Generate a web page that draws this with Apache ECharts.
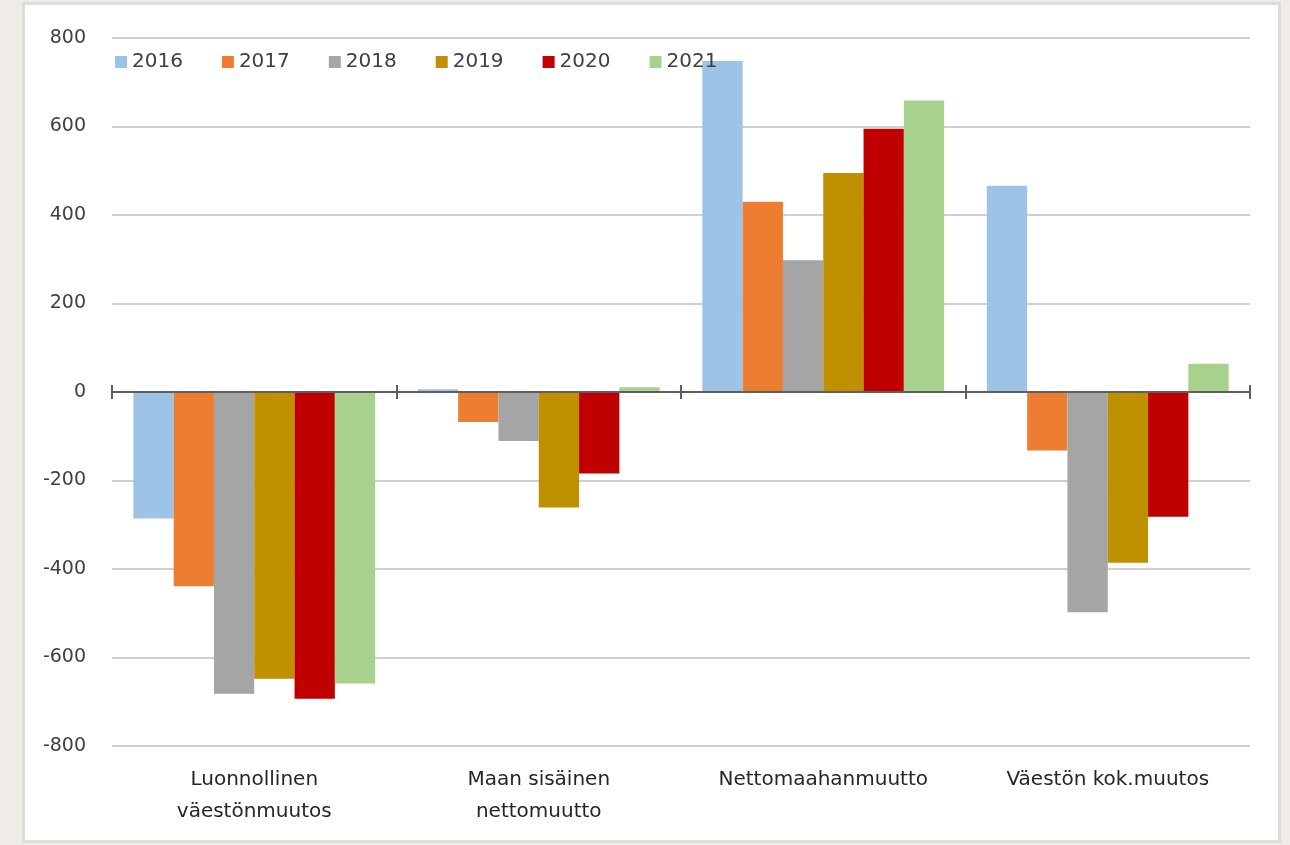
<html>
    <head>
        <meta charset="utf-8">
        <script src="https://cdn.jsdelivr.net/npm/echarts@6/dist/echarts.min.js"></script>
    </head>
    <body>
        <style>
            html, body {
                width: 100%;
                height: 100%;
                margin: 0;
                background: #efece7;
            }
            #frame {
                position: absolute;
                left: 22px;
                top: 2px;
                width: 1253px;
                height: 835px;
                background: #fff;
                border: 3px solid #dedcd9;
            }
            #main {
                position: absolute;
                left: 0;
                top: 0;
                width: 1290px;
                height: 845px;
            }
        </style>
        <div id="frame"></div>
        <div id="main"></div>

        <script>
            var categories = ['Luonnollinen\nväestönmuutos', 'Maan sisäinen\nnettomuutto', 'Nettomaahanmuutto', 'Väestön kok.muutos'];
            var years = ['2016', '2017', '2018', '2019', '2020', '2021'];
            var colors = ['#9dc3e6', '#ed7d31', '#a5a5a5', '#bf9000', '#c00000', '#a9d18e'];

            var v2016 = [-286, 6, 748, 466];
            var v2017 = [-439, -68, 430, -132];
            var v2018 = [-682, -111, 298, -498];
            var v2019 = [-648, -261, 495, -386];
            var v2020 = [-693, -184, 595, -282];
            var v2021 = [-659, 11, 659, 64];
            var values = [v2016, v2017, v2018, v2019, v2020, v2021];

            var font = 'DejaVu Sans';

            var chart = echarts.init(document.getElementById('main'));

            var series = [];
            for (var i = 0; i < years.length; i++) {
                series.push({
                    name: years[i],
                    type: 'bar',
                    data: values[i],
                    barGap: 0,
                    barCategoryGap: '15%',
                    itemStyle: {
                        color: colors[i]
                    }
                });
            }

            // zero line with ticks crossing it (one axis ticks down, one ticks up)
            function zeroAxis(pos) {
                return {
                    type: 'category',
                    data: categories,
                    position: pos,
                    z: 5,
                    axisLine: {
                        show: true,
                        onZero: true,
                        onZeroAxisIndex: 0,
                        lineStyle: { color: '#5f5f5f', width: 2 }
                    },
                    axisTick: {
                        show: true,
                        interval: 0,
                        length: 7,
                        lineStyle: { color: '#5f5f5f', width: 2 }
                    },
                    axisLabel: { show: false }
                };
            }

            chart.setOption({
                animation: false,
                color: colors,
                legend: {
                    left: 110,
                    top: 47,
                    itemWidth: 12,
                    itemHeight: 12,
                    itemGap: 39,
                    icon: 'rect',
                    data: years,
                    textStyle: {
                        fontFamily: font,
                        fontSize: 20,
                        color: '#404040'
                    }
                },
                grid: {
                    left: 112,
                    right: 40,
                    top: 38,
                    bottom: 99
                },
                xAxis: [{
                    // labels at the bottom
                    type: 'category',
                    data: categories,
                    position: 'bottom',
                    axisLine: { show: false, onZero: false },
                    axisTick: { show: false },
                    axisLabel: {
                        margin: 18,
                        fontFamily: font,
                        fontSize: 20,
                        lineHeight: 32,
                        color: '#262626'
                    }
                }, zeroAxis('bottom'), zeroAxis('top')],
                yAxis: {
                    type: 'value',
                    min: -800,
                    max: 800,
                    interval: 200,
                    axisLine: { show: false },
                    axisTick: { show: false },
                    axisLabel: {
                        margin: 26,
                        fontFamily: font,
                        fontSize: 19,
                        color: '#404040'
                    },
                    splitLine: {
                        lineStyle: { color: '#d0d0d0', width: 2 }
                    }
                },
                series: series
            });
        </script>
    </body>
</html>
